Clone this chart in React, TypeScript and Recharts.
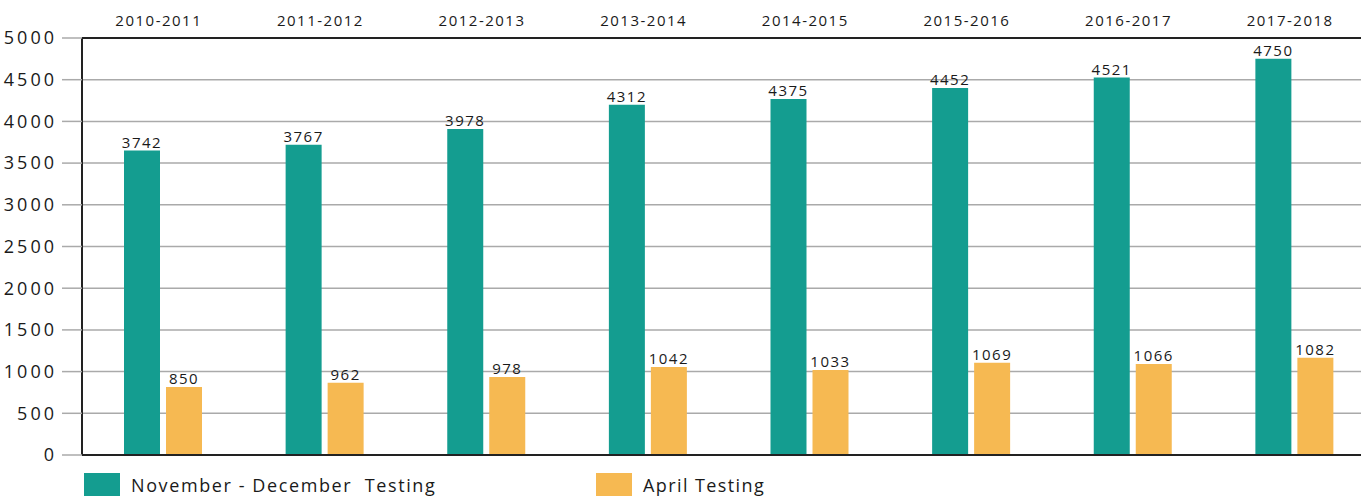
import { BarChart, Bar, XAxis, YAxis, CartesianGrid, ReferenceLine, LabelList } from 'recharts';

const seasons = ['2010-2011', '2011-2012', '2012-2013', '2013-2014', '2014-2015', '2015-2016', '2016-2017', '2017-2018'];
// bar heights as drawn in the picture
const novDecValues = [3650, 3720, 3910, 4200, 4270, 4400, 4525, 4750];
const aprilValues = [815, 865, 935, 1055, 1020, 1105, 1090, 1165];
// printed labels above the bars
const novDecLabels = ['3742', '3767', '3978', '4312', '4375', '4452', '4521', '4750'];
const aprilLabels = ['850', '962', '978', '1042', '1033', '1069', '1066', '1082'];
const yTicks = [0, 500, 1000, 1500, 2000, 2500, 3000, 3500, 4000, 4500, 5000];

const GREEN = '#149d90';
const ORANGE = '#f6b952';
const FONT = '"Open Sans", sans-serif';

const data = seasons.map((season, i) => ({
  season,
  novDec: novDecValues[i],
  april: aprilValues[i],
  novDecLabel: novDecLabels[i],
  aprilLabel: aprilLabels[i],
}));

export default function App() {
  return (
    <div style={{ position: 'absolute', left: 0, top: 0, width: 1361, height: 496, overflow: 'hidden', background: '#fff', fontFamily: FONT }}>
      <BarChart
        width={1400}
        height={496}
        data={data}
        margin={{ top: 0, right: 25, left: 0, bottom: 41 }}
        barSize={36}
        barGap={6}
      >
        <CartesianGrid vertical={false} stroke="#aaaaaa" strokeWidth={1.5} />
        <XAxis
          dataKey="season"
          orientation="top"
          height={38}
          tickLine={false}
          tickMargin={6}
          axisLine={{ stroke: '#222', strokeWidth: 2 }}
          tick={{ fill: '#1a1a1a', fontSize: 15, fontFamily: FONT, letterSpacing: 1.5, dx: -4 }}
          interval={0}
        />
        <YAxis
          width={82}
          domain={[0, 5000]}
          ticks={yTicks}
          tickSize={20}
          tickMargin={5}
          tickLine={{ stroke: '#aaaaaa', strokeWidth: 1.5 }}
          axisLine={{ stroke: '#222', strokeWidth: 2 }}
          tick={{ fill: '#1a1a1a', fontSize: 18, fontFamily: FONT, letterSpacing: 3 }}
          interval={0}
        />
        <ReferenceLine y={0} stroke="#222" strokeWidth={2} />
        <Bar dataKey="novDec" fill={GREEN} isAnimationActive={false}>
          <LabelList dataKey="novDecLabel" position="top" offset={3} fill="#1a1a1a" fontSize={15} fontFamily={FONT} letterSpacing={1.5} />
        </Bar>
        <Bar dataKey="april" fill={ORANGE} isAnimationActive={false}>
          <LabelList dataKey="aprilLabel" position="top" offset={3} fill="#1a1a1a" fontSize={15} fontFamily={FONT} letterSpacing={1.5} />
        </Bar>
      </BarChart>
      <div style={{ position: 'absolute', left: 84, top: 473, width: 36, height: 23, background: GREEN }} />
      <div style={{ position: 'absolute', left: 131, top: 474, fontSize: 18, lineHeight: '22px', letterSpacing: 1.6, color: '#1a1a1a', whiteSpace: 'pre' }}>
        November - December  Testing
      </div>
      <div style={{ position: 'absolute', left: 596, top: 473, width: 36, height: 23, background: ORANGE }} />
      <div style={{ position: 'absolute', left: 643, top: 474, fontSize: 18, lineHeight: '22px', letterSpacing: 1.4, color: '#1a1a1a', whiteSpace: 'pre' }}>
        April Testing
      </div>
    </div>
  );
}
